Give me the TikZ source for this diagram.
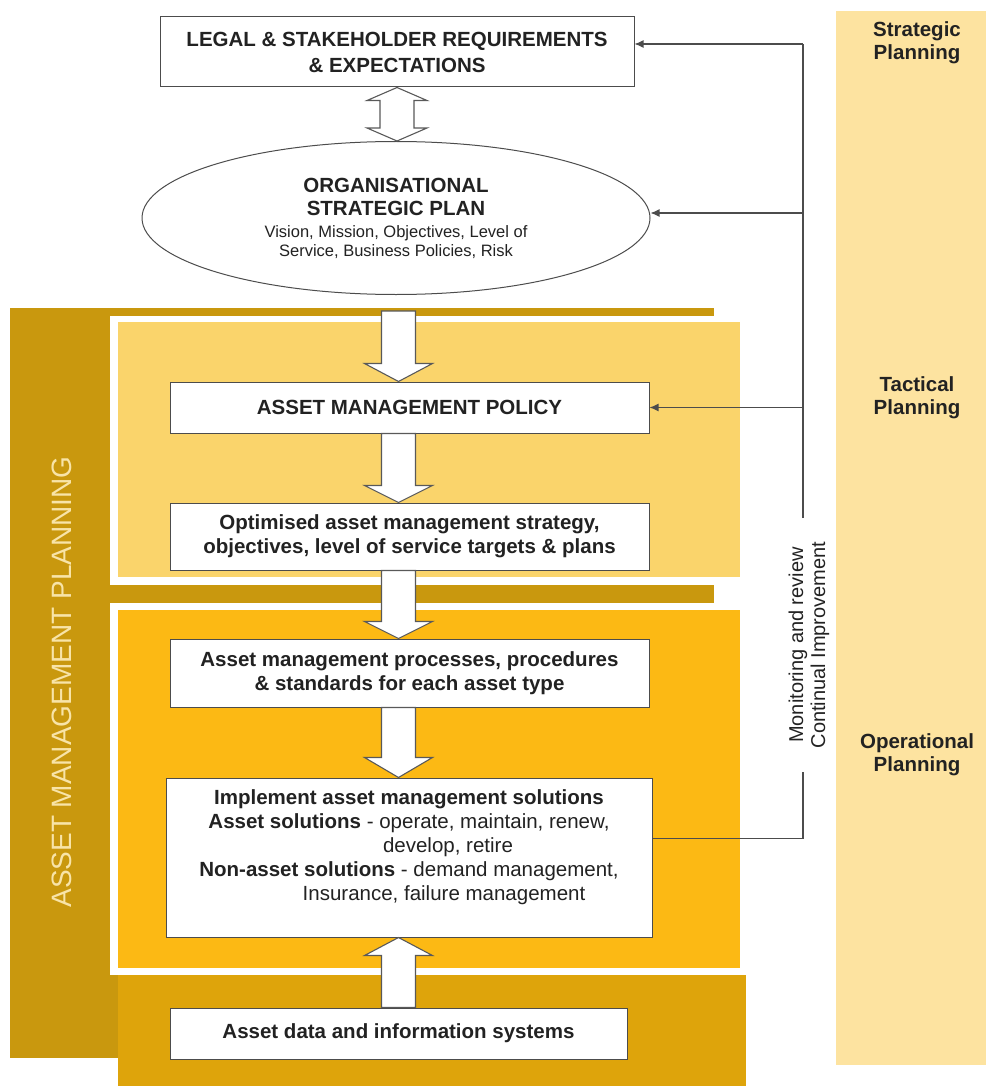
\documentclass[tikz,border=0pt]{standalone}
\usepackage{fontspec}
\setmainfont{Liberation Sans}
\usetikzlibrary{calc,shapes.geometric,arrows.meta}
\definecolor{darkgold}{HTML}{C9980E}
\definecolor{datagold}{HTML}{DEA40B}
\definecolor{tactgold}{HTML}{FAD46B}
\definecolor{opgold}{HTML}{FCB914}
\definecolor{colpale}{HTML}{FDE3A0}
\definecolor{titlepale}{HTML}{F8E4A8}
\definecolor{ink}{HTML}{222222}
\newcommand{\blkdown}[3]{\draw[blk] let \p1=#1, \p2=#2 in (\x2-17pt,\y1) -- (\x2-17pt,\y2+#3) -- (\x2-34pt,\y2+#3) -- (\x2,\y2) -- (\x2+34pt,\y2+#3) -- (\x2+17pt,\y2+#3) -- (\x2+17pt,\y1) -- cycle;}
\newcommand{\blkup}[3]{\draw[blk] let \p1=#1, \p2=#2 in (\x2-17pt,\y1) -- (\x2-17pt,\y2-#3) -- (\x2-34pt,\y2-#3) -- (\x2,\y2) -- (\x2+34pt,\y2-#3) -- (\x2+17pt,\y2-#3) -- (\x2+17pt,\y1) -- cycle;}
\newcommand{\subtxt}{\fontsize{16.5}{19}\selectfont\mdseries}
\begin{document}
\begin{tikzpicture}[x=1pt,y=-1pt,
  box/.style={draw=black!70,line width=1pt,fill=white,inner sep=0pt,align=center,text=ink},
  bfont/.style={font=\fontsize{20.5}{24}\selectfont\bfseries},
  blk/.style={draw=black!65,line width=1.1pt,fill=white,line join=miter},
  fb/.style={draw=black!70,line width=1.2pt},
  fbarrow/.style={fb,-{Latex[length=9pt,width=8pt]}},
  plan/.style={font=\fontsize{20.5}{23}\selectfont\bfseries,align=center,text=ink}
]
\useasboundingbox (0,0) rectangle (986,1086);
% right column
\fill[colpale] (836,11) rectangle (986,1065);
% gold backgrounds
\fill[darkgold] (10,308) rectangle (118,1058);
\fill[darkgold] (10,308) rectangle (714,316);
\fill[darkgold] (10,585) rectangle (714,603);
\fill[datagold] (118,975) rectangle (746,1086);
\fill[white] (110,316) rectangle (745,585);
\fill[tactgold] (118,322) rectangle (740,577);
\fill[white] (110,603) rectangle (750,975);
\fill[opgold] (118,610) rectangle (740,968);
% title in left band
\node[rotate=90,font=\fontsize{28}{30}\selectfont,text=titlepale] (amp) at (62,682) {ASSET MANAGEMENT PLANNING};
% nodes
\node[box,minimum width=474pt,minimum height=70pt,font=\fontsize{20.5}{26}\selectfont\bfseries] (legal) at (397,52) {LEGAL \& STAKEHOLDER REQUIREMENTS\\\& EXPECTATIONS};
\node[draw=black!70,line width=1pt,fill=white,ellipse,minimum width=508pt,minimum height=153pt,inner sep=0pt,align=center,text=ink,font=\fontsize{20.5}{23}\selectfont\bfseries] (osp) at (396,218)
 {ORGANISATIONAL\\STRATEGIC PLAN\\[-1pt]{\subtxt Vision, Mission, Objectives, Level of}\\[-4pt]{\subtxt Service, Business Policies, Risk}};
\node[box,bfont,minimum width=479pt,minimum height=51pt] (pol) at (409.5,407.5) {ASSET MANAGEMENT POLICY};
\node[box,bfont,minimum width=479pt,minimum height=67pt] (strat) at (409.5,536.5) {Optimised asset management strategy,\\objectives, level of service targets \& plans};
\node[box,bfont,minimum width=479pt,minimum height=68pt] (proc) at (409.5,673) {Asset management processes, procedures\\\& standards for each asset type};
\node[box,minimum width=486pt,minimum height=159pt,font=\fontsize{20.5}{24}\selectfont] (impl) at (409,857.5)
 {\textbf{Implement asset management solutions}\\
  \textbf{Asset solutions} - operate, maintain, renew,\\
  \hspace*{78pt}develop, retire\\
  \textbf{Non-asset solutions} - demand management,\\
  \hspace*{70pt}Insurance, failure management\\ ~};
\node[box,bfont,minimum width=457pt,minimum height=51pt] (data) at (398.5,1033.5) {Asset data and information systems};
% right column labels
\node[plan] (sp) at (917,43) {Strategic\\Planning};
\node[plan] (tp) at (917,398) {Tactical\\Planning};
\node[plan] (op) at (917,755) {Operational\\Planning};
% block arrows
\draw[blk] let \p1=(legal.south), \p2=(osp.north) in
 (\x1,\y1) -- (\x1+30pt,\y1-13pt) -- (\x1+17pt,\y1-13pt) -- (\x1+17pt,\y2+13pt) -- (\x1+30pt,\y2+13pt) -- (\x1,\y2)
 -- (\x1-30pt,\y2+13pt) -- (\x1-17pt,\y2+13pt) -- (\x1-17pt,\y1-13pt) -- (\x1-30pt,\y1-13pt) -- cycle;
\coordinate (a0) at (398,311);
\blkdown{(a0)}{(pol.north -| data.north)}{18pt}
\blkdown{(pol.south)}{(strat.north -| data.north)}{17pt}
\blkdown{(strat.south)}{(proc.north -| data.north)}{17pt}
\blkdown{(proc.south)}{(impl.north -| data.north)}{20pt}
\blkup{(data.north)}{(impl.south -| data.north)}{18pt}
% feedback loop
\coordinate (fbx) at (803,44);
\coordinate (gapTop) at (803,518);
\coordinate (gapBot) at (803,772);
\draw[fb] ([yshift=19pt]impl.east) -- ([yshift=19pt]impl.east -| gapBot) -- (gapBot);
\draw[fb] (gapTop) -- (fbx);
\draw[fbarrow] (fbx) -- (fbx -| legal.east);
\draw[fbarrow] ([yshift=5pt]osp.east -| fbx) -- ([yshift=5pt]osp.east);
\draw[fbarrow] (pol.east -| fbx) -- (pol.east);
\node[rotate=90,align=center,font=\fontsize{20}{22}\selectfont,text=ink] (mon) at (809,645) {Monitoring and review\\Continual Improvement};
\end{tikzpicture}
\end{document}
